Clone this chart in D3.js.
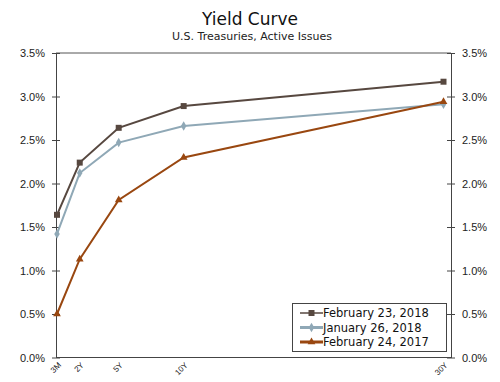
<!DOCTYPE html>
<html>
<head>
<meta charset="utf-8">
<script src="https://cdn.jsdelivr.net/npm/d3@7"></script>
<style>
  body { margin: 0; background: #fff; }
  svg { font-family: "DejaVu Sans", Verdana, sans-serif; }
  .axis path, .axis line { stroke: #444; }
  .axis text { fill: #222; font-size: 11px; }
</style>
</head>
<body>
<div id="chart"></div>
<script>
// maturities in years, and their labels
const maturities = [0.25, 2, 5, 10, 30];
const maturityLabels = ["3M", "2Y", "5Y", "10Y", "30Y"];

// yields in percent
const feb232018 = [1.64, 2.24, 2.64, 2.89, 3.17];
const jan262018 = [1.42, 2.12, 2.47, 2.66, 2.91];
const feb242017 = [0.50, 1.13, 1.81, 2.30, 2.94];

const seriesNames = ["February 23, 2018", "January 26, 2018", "February 24, 2017"];
const yTicks = [0, 0.5, 1, 1.5, 2, 2.5, 3, 3.5];

const width = 500, height = 382;
const plotLeft = 56, plotRight = 451, plotTop = 53, plotBottom = 357.5;

const series = [
  {name: seriesNames[0], values: feb232018, color: "#574840", marker: "square"},
  {name: seriesNames[1], values: jan262018, color: "#8fa8b6", marker: "diamond"},
  {name: seriesNames[2], values: feb242017, color: "#994710", marker: "triangle"}
];

const svg = d3.select("#chart").append("svg")
    .attr("width", width)
    .attr("height", height);

// x is linear in years to maturity
const x = d3.scaleLinear().domain([0.25, 30]).range([57, 443.5]);
const y = d3.scaleLinear().domain([0, 3.5]).range([plotBottom, plotTop]);

svg.append("text")
    .attr("x", 250).attr("y", 25)
    .attr("text-anchor", "middle")
    .style("font-size", "17px").style("fill", "#111")
    .text("Yield Curve");

svg.append("text")
    .attr("x", 252).attr("y", 40)
    .attr("text-anchor", "middle")
    .style("font-size", "11px").style("fill", "#222")
    .text("U.S. Treasuries, Active Issues");

// frame top line
svg.append("line")
    .attr("x1", plotLeft).attr("x2", plotRight)
    .attr("y1", plotTop).attr("y2", plotTop)
    .attr("stroke", "#555");

const fmt = d => d.toFixed(1) + "%";

// Left axis
svg.append("g")
    .attr("class", "axis")
    .attr("transform", "translate(" + plotLeft + ",0)")
    .call(d3.axisLeft(y).tickValues(yTicks).tickFormat(fmt).tickSize(4).tickSizeOuter(0).tickPadding(7))
    .selectAll(".tick line").attr("x2", 4).attr("x1", -4);

// Right axis
svg.append("g")
    .attr("class", "axis")
    .attr("transform", "translate(" + plotRight + ",0)")
    .call(d3.axisRight(y).tickValues(yTicks).tickFormat(fmt).tickSize(4).tickSizeOuter(0).tickPadding(7))
    .selectAll(".tick line").attr("x1", -4).attr("x2", 4);

// Bottom axis
const xAxis = svg.append("g")
    .attr("class", "axis")
    .attr("transform", "translate(0," + plotBottom + ")")
    .call(d3.axisBottom(x).tickValues(maturities).tickFormat((d, i) => maturityLabels[i]).tickSize(0).tickSizeOuter(0));
xAxis.select(".domain").attr("d", "M" + plotLeft + ",0H" + plotRight);
xAxis.selectAll(".tick text")
    .style("font-size", "8px")
    .attr("text-anchor", "end")
    .attr("dy", 0)
    .attr("transform", "translate(2,6) rotate(-45)");

// Lines and markers
const line = d3.line()
    .x((d, i) => x(maturities[i]))
    .y(d => y(d));

function marker(g, type, color, size) {
  const sym = type === "square" ? d3.symbolSquare : type === "diamond" ? d3.symbolDiamond : d3.symbolTriangle;
  return g.append("path")
      .attr("d", d3.symbol().type(sym).size(size))
      .attr("fill", color);
}
const markerSize = {square: 36, diamond: 26, triangle: 26};

series.forEach(s => {
  svg.append("path")
      .datum(s.values)
      .attr("fill", "none")
      .attr("stroke", s.color)
      .attr("stroke-width", 2)
      .attr("d", line);
  s.values.forEach((v, i) => {
    marker(svg, s.marker, s.color, markerSize[s.marker])
        .attr("transform", "translate(" + x(maturities[i]) + "," + y(v) + ")");
  });
});

// Legend
const legend = svg.append("g").attr("transform", "translate(292,303)");
legend.append("rect")
    .attr("x", 0.5).attr("y", 0.5)
    .attr("width", 154).attr("height", 48)
    .attr("fill", "#fff").attr("stroke", "#444");

series.forEach((s, i) => {
  const row = legend.append("g").attr("transform", "translate(0," + (10 + i * 14.5) + ")");
  row.append("line")
      .attr("x1", 8).attr("x2", 31)
      .attr("stroke", s.color)
      .attr("stroke-width", i === 0 ? 1.5 : 3);
  marker(row, s.marker, s.color, markerSize[s.marker])
      .attr("transform", "translate(19.5,0)");
  row.append("text")
      .attr("x", 31).attr("y", 4)
      .style("font-size", "11.5px").style("fill", "#111")
      .text(s.name);
});
</script>
</body>
</html>
